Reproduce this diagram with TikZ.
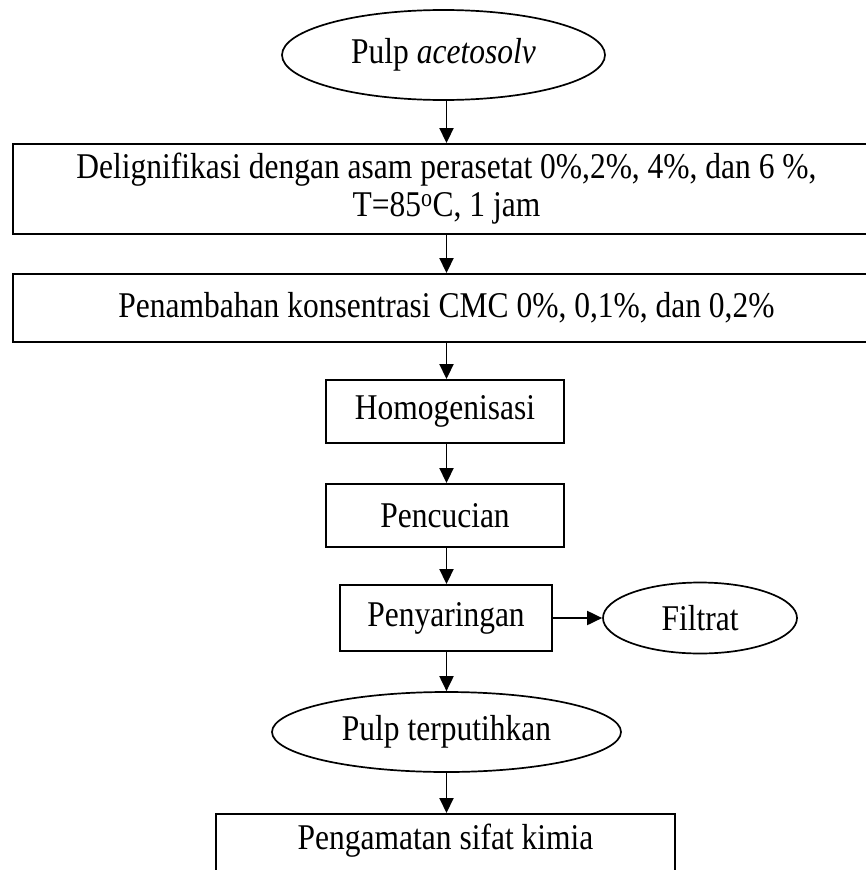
\documentclass[tikz,border=0pt]{standalone}
\usepackage{fontspec}
\usepackage{graphicx}
\setmainfont{Liberation Serif}
\usetikzlibrary{shapes.geometric,arrows.meta}
\newcommand{\vstr}[1]{\scalebox{1}[1.15]{#1}}
\begin{document}
\begin{tikzpicture}[x=1pt,y=-1pt,
  every node/.style={font=\fontsize{31.5}{38}\selectfont},
  stepbox/.style={draw, line width=1.9pt, rectangle, inner sep=0pt, align=center},
  termbox/.style={draw, line width=1.7pt, ellipse, inner sep=0pt},
  flow/.style={line width=1.9pt, -{Triangle[length=15pt,width=14pt]}}]
\useasboundingbox (0,0) rectangle (866,870);
\node[termbox, minimum width=323pt, minimum height=90pt] (e1) at (443.5,55) {\vstr{Pulp \textit{acetosolv}}};
\node[stepbox, minimum width=867pt, minimum height=90pt] (b1) at (446.5,189)
  {\vstr{Delignifikasi dengan asam perasetat 0\%,2\%, 4\%, dan 6 \%,}\\\vstr{T=85\textsuperscript{o}C, 1 jam}};
\node[stepbox, minimum width=867pt, minimum height=68pt] (b2) at (446.5,308)
  {\vstr{Penambahan konsentrasi CMC 0\%, 0,1\%, dan 0,2\%}};
\node[stepbox, minimum width=238pt, minimum height=63pt] (b3) at (445,411.5) {\vstr{Homogenisasi}};
\node[stepbox, minimum width=238pt, minimum height=63pt] (b4) at (445,515.5) {\vstr{Pencucian}};
\node[stepbox, minimum width=212pt, minimum height=66pt] (b5) at (446,618) {\vstr{Penyaringan}};
\node[termbox, minimum width=194pt, minimum height=71pt] (f) at (700,618) {\vstr{Filtrat}};
\node[termbox, minimum width=349pt, minimum height=80pt] (e2) at (446.5,732) {\vstr{Pulp terputihkan}};
\node[stepbox, minimum width=459pt, text height=36pt, text depth=65pt, anchor=north] (b6) at (445.5,813) {\vstr{Pengamatan sifat kimia}};
\coordinate (x) at (446.5,0);
\draw[flow] (e1.south -| x) -- (b1.north -| x);
\draw[flow] (b1.south -| x) -- (b2.north -| x);
\draw[flow] (b2.south -| x) -- (b3.north -| x);
\draw[flow] (b3.south -| x) -- (b4.north -| x);
\draw[flow] (b4.south -| x) -- (b5.north -| x);
\draw[flow] (b5.east) -- (f.west);
\draw[flow] (b5.south -| x) -- (e2.north -| x);
\draw[flow] (e2.south -| x) -- (b6.north -| x);
\end{tikzpicture}
\end{document}
